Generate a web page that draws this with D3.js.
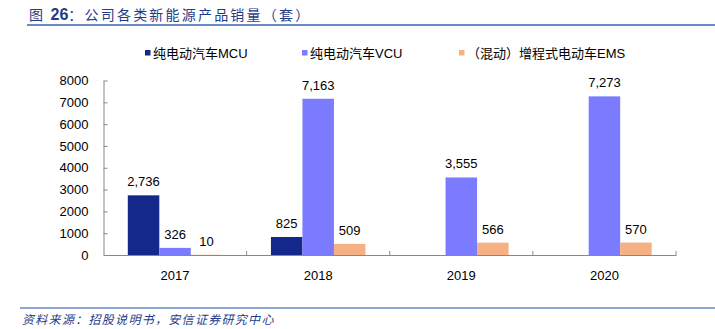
<!DOCTYPE html>
<html><head><meta charset="utf-8">
<script src="https://cdn.jsdelivr.net/npm/d3@7"></script>
<style>
body{margin:0;background:#fff;}
svg{display:block;}
</style></head>
<body>
<svg id="chart" width="715" height="329"></svg>
<script>
const categories = ["2017","2018","2019","2020"];
const seriesNames = ["纯电动汽车MCU","纯电动汽车VCU","（混动）增程式电动车EMS"];
const mcu = [2736, 825, null, null];
const vcu = [326, 7163, 3555, 7273];
const ems = [10, 509, 566, 570];
const yTicks = [0,1000,2000,3000,4000,5000,6000,7000,8000];
const colors = ["#14288c","#7b7bff","#f5b184"];
const sourceText = "资料来源：招股说明书，安信证券研究中心";

const series = [mcu, vcu, ems];
const svg = d3.select("#chart");
const font = "'Liberation Sans', Arial, 'Noto Sans CJK SC', sans-serif";

// title
const t = svg.append("text").attr("x",29).attr("y",20)
  .attr("fill","#1f3c88").attr("font-family","'Noto Sans CJK SC', sans-serif")
  .attr("font-size",14).attr("letter-spacing",2.2);
t.append("tspan").text("图 ");
t.append("tspan").attr("font-family",font).attr("font-weight","bold").attr("font-size",16).attr("letter-spacing",0).text("26");
t.append("tspan").text("：公司各类新能源产品销量（套）");
svg.append("line").attr("x1",27).attr("x2",715).attr("y1",25).attr("y2",25)
  .attr("stroke","#6a8ac6").attr("stroke-width",2);

// footer
svg.append("line").attr("x1",20).attr("x2",715).attr("y1",308).attr("y2",308)
  .attr("stroke","#6a8ac6").attr("stroke-width",1.5);
svg.append("text").attr("x",22).attr("y",324).attr("fill","#1f3c88")
  .attr("font-family","'Noto Sans CJK SC', sans-serif").attr("font-size",12)
  .attr("letter-spacing",1.3).attr("font-style","italic").text(sourceText);

// scales
const x0 = d3.scaleBand().domain(categories).range([103.5,676]).paddingInner(0).paddingOuter(0);
const innerPad = (143.1 - 94.5)/2;
const x1 = d3.scaleBand().domain([0,1,2]).range([innerPad, x0.bandwidth()-innerPad]).padding(0);
const y = d3.scaleLinear().domain([0,8000]).range([255,80.5]);

// y axis
const yAxis = svg.append("g").attr("transform","translate(103.5,0)")
  .call(d3.axisLeft(y).tickValues(yTicks).tickFormat(d3.format("d")).tickSizeInner(-4).tickSizeOuter(0).tickPadding(15));
yAxis.select(".domain").attr("stroke","#888");
yAxis.selectAll(".tick line").attr("stroke","#888");
yAxis.selectAll("text").attr("font-family",font).attr("font-size",13).attr("fill","#000");

// bars
const groups = svg.append("g").selectAll("g").data(categories).join("g")
  .attr("transform",d=>`translate(${x0(d)},0)`);
groups.each(function(cat, ci){
  const g = d3.select(this);
  series.forEach((s, si)=>{
    const v = s[ci];
    if (v == null) return;
    g.append("rect").attr("x",x1(si)).attr("width",x1.bandwidth())
      .attr("y",y(v)).attr("height",y(0)-y(v)).attr("fill",colors[si]);
    g.append("text").attr("x",x1(si)+x1.bandwidth()/2).attr("y",y(v)-9)
      .attr("text-anchor","middle").attr("font-family",font).attr("font-size",13)
      .attr("fill","#000").text(d3.format(",")(v));
  });
});

// x axis
const xAxis = svg.append("g").attr("transform","translate(0,255)")
  .call(d3.axisBottom(x0).tickSize(0).tickPadding(16));
xAxis.select(".domain").attr("stroke","#888");
xAxis.selectAll("text").attr("font-family",font).attr("font-size",13).attr("fill","#000");
const bounds = categories.map(c=>x0(c)).concat([x0(categories[categories.length-1])+x0.bandwidth()]).slice(1);
xAxis.selectAll(".btick").data(bounds).join("line").attr("class","btick")
  .attr("x1",d=>d).attr("x2",d=>d).attr("y1",0).attr("y2",-4).attr("stroke","#888");

// legend
const legendX = [145, 302, 459];
const lg = svg.append("g");
seriesNames.forEach((n,i)=>{
  lg.append("rect").attr("x",legendX[i]).attr("y",50).attr("width",5.5).attr("height",5.5).attr("fill",colors[i]);
  lg.append("text").attr("x",legendX[i]+8).attr("y",57.5).attr("font-family",font)
    .attr("font-size",13).attr("fill","#000").text(n);
});
</script>
</body></html>
